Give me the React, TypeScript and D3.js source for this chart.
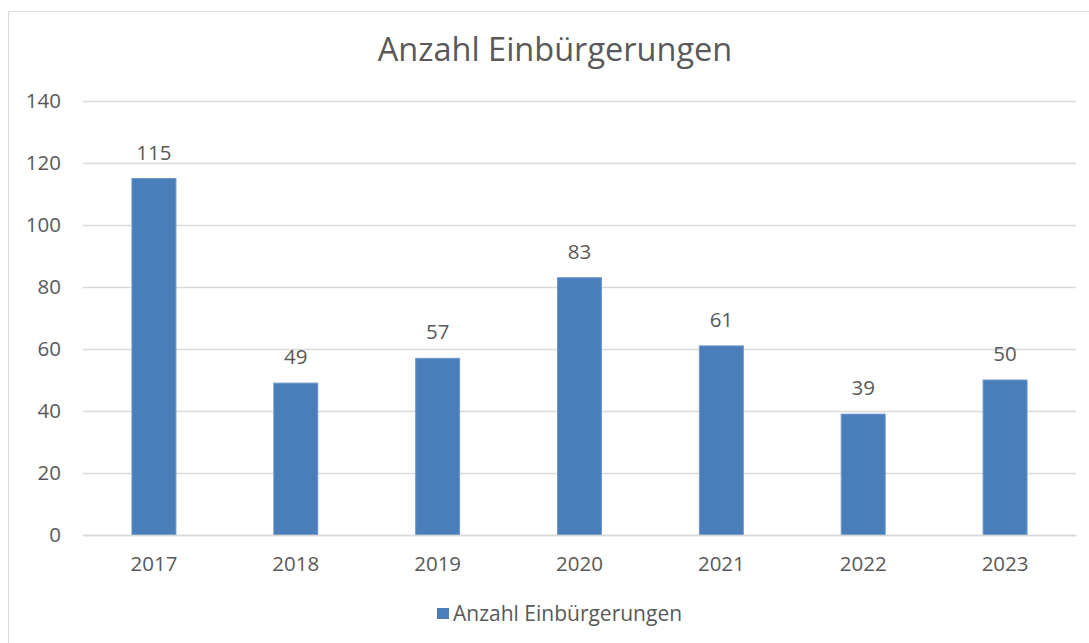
import React, { useEffect, useRef } from 'react';
import { select, scaleBand, scaleLinear, axisLeft, axisBottom } from 'd3';

const years = ['2017', '2018', '2019', '2020', '2021', '2022', '2023'];
const einbuergerungen = [115, 49, 57, 83, 61, 39, 50];
const yTicks = [0, 20, 40, 60, 80, 100, 120, 140];
const title = 'Anzahl Einbürgerungen';
const seriesName = 'Anzahl Einbürgerungen';

const FONT = '"Open Sans", "Noto Sans", sans-serif';
const TEXT = '#595959';

function BarChart() {
  const svgRef = useRef<SVGSVGElement>(null);

  useEffect(() => {
    const svg = select(svgRef.current);
    svg.selectAll('*').remove();

    const xScale = scaleBand<string>()
      .domain(years)
      .range([83, 1076])
      .paddingInner(0.69)
      .paddingOuter(0.345);
    const yScale = scaleLinear().domain([0, 140]).range([535, 101]);

    // chart frame (runs off the right and bottom edge like the screenshot)
    svg.append('rect')
      .attr('x', 8.5).attr('y', 11.5)
      .attr('width', 1120).attr('height', 700)
      .attr('fill', '#fff').attr('stroke', '#d9d9d9');

    svg.append('text')
      .attr('x', 555).attr('y', 61)
      .attr('text-anchor', 'middle')
      .attr('font-size', 32.5)
      .attr('fill', TEXT)
      .text(title);

    const yAxis = axisLeft(yScale)
      .tickValues(yTicks)
      .tickSize(-(1076 - 83))
      .tickPadding(22);
    const gy = svg.append('g')
      .attr('transform', 'translate(83,0)')
      .call(yAxis);
    gy.select('.domain').remove();
    gy.selectAll('.tick line').attr('stroke', '#d9d9d9').attr('stroke-width', 1.5);
    gy.selectAll('.tick text')
      .attr('fill', TEXT).attr('font-size', 20.5).attr('font-family', FONT);

    svg.selectAll('.bar')
      .data(einbuergerungen)
      .join('rect')
      .attr('class', 'bar')
      .attr('x', (d, i) => xScale(years[i]) as number)
      .attr('y', (d) => yScale(d))
      .attr('width', xScale.bandwidth())
      .attr('height', (d) => yScale(0) - yScale(d))
      .attr('fill', '#4a7ebb')
      .attr('stroke', '#6f98cc')
      .attr('stroke-width', 1);

    svg.selectAll('.value')
      .data(einbuergerungen)
      .join('text')
      .attr('class', 'value')
      .attr('x', (d, i) => (xScale(years[i]) as number) + xScale.bandwidth() / 2)
      .attr('y', (d) => yScale(d) - 19)
      .attr('text-anchor', 'middle')
      .attr('font-size', 20.5)
      .attr('fill', TEXT)
      .text((d) => d);

    const xAxis = axisBottom(xScale).tickSize(0).tickPadding(21);
    const gx = svg.append('g')
      .attr('transform', 'translate(0,535)')
      .call(xAxis);
    gx.select('.domain').attr('stroke', '#d9d9d9').attr('stroke-width', 1.5);
    gx.selectAll('.tick text')
      .attr('fill', TEXT).attr('font-size', 20.5).attr('font-family', FONT);

    // legend
    const legend = svg.append('g');
    legend.append('rect')
      .attr('x', 437).attr('y', 608).attr('width', 12).attr('height', 11)
      .attr('fill', '#4a7ebb');
    legend.append('text')
      .attr('x', 453).attr('y', 621)
      .attr('font-size', 21)
      .attr('fill', TEXT)
      .text(seriesName);
  }, []);

  return (
    <svg
      ref={svgRef}
      width={1089}
      height={643}
      style={{ position: 'absolute', left: 0, top: 0, fontFamily: FONT, background: '#fff' }}
    />
  );
}

export default function App() {
  return <BarChart />;
}
